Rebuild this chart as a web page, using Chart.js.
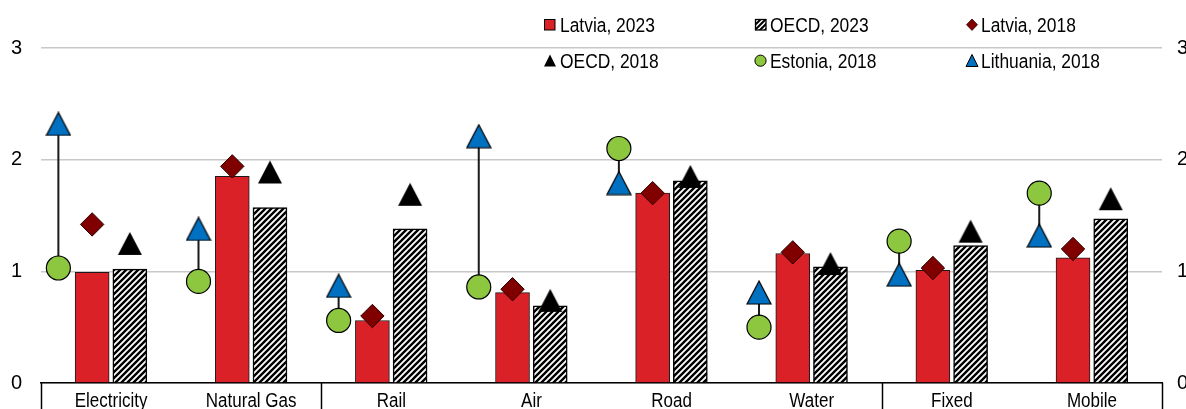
<!DOCTYPE html>
<html><head><meta charset="utf-8">
<script src="https://cdn.jsdelivr.net/npm/chart.js@4.4.1/dist/chart.umd.min.js"></script>
<style>
html,body{margin:0;padding:0;background:#fff;overflow:hidden;width:1186px;height:409px;}
#wrap{position:relative;width:1186px;height:440px;}
canvas{display:block}
.lt{position:absolute;font-family:'Liberation Sans',Arial,sans-serif;font-size:20px;line-height:24px;color:#000;white-space:nowrap;transform:scaleX(0.87);transform-origin:0 50%;}
#icons{position:absolute;left:0;top:0}
</style></head><body>
<div id="wrap">
<canvas id="c" width="1186" height="440"></canvas>
<svg id="icons" width="1186" height="80" xmlns="http://www.w3.org/2000/svg">
<defs><pattern id="hp" width="5" height="5" patternUnits="userSpaceOnUse"><rect width="5" height="5" fill="#fff"/><path d="M-1,6 L6,-1 M-1,1 L1,-1 M4,6 L6,4" stroke="#000" stroke-width="2"/></pattern></defs>
<rect x="544.5" y="19.5" width="10.5" height="10.5" fill="#DA2128" stroke="#000" stroke-width="1"/>
<rect x="755.5" y="19.5" width="10.5" height="10.5" fill="url(#hp)" stroke="#000" stroke-width="1.3"/>
<path d="M972,19 L977.5,24.7 L972,30.4 L966.5,24.7 Z" fill="#800000" stroke="#3a0000" stroke-width="0.8"/>
<path d="M550,54.5 L556,66.5 L544,66.5 Z" fill="#000"/>
<circle cx="760.5" cy="60.7" r="5.6" fill="#8DC63F" stroke="#000" stroke-width="1"/>
<path d="M972,54.5 L978,66.5 L966,66.5 Z" fill="#0070C0" stroke="#000" stroke-width="1"/>
</svg>
<div class="lt" style="left:560px;top:12.5px">Latvia, 2023</div>
<div class="lt" style="left:770px;top:12.5px">OECD, 2023</div>
<div class="lt" style="left:981px;top:12.5px">Latvia, 2018</div>
<div class="lt" style="left:560px;top:48.5px">OECD, 2018</div>
<div class="lt" style="left:770px;top:48.5px">Estonia, 2018</div>
<div class="lt" style="left:981px;top:48.5px">Lithuania, 2018</div>
</div>
<script>
const categories = ['Electricity', 'Natural Gas', 'Rail', 'Air', 'Road', 'Water', 'Fixed', 'Mobile'];
const latvia2023 = [0.99, 1.85, 0.56, 0.81, 1.70, 1.16, 1.01, 1.12];
const oecd2023 = [1.02, 1.57, 1.38, 0.69, 1.81, 1.04, 1.23, 1.47];
const latvia2018 = [1.42, 1.94, 0.60, 0.84, 1.70, 1.17, 1.03, 1.20];
const oecd2018 = [1.25, 1.89, 1.69, 0.74, 1.85, 1.07, 1.36, 1.65];
const estonia2018 = [1.03, 0.91, 0.56, 0.86, 2.10, 0.50, 1.27, 1.70];
const lithuania2018 = [2.32, 1.38, 0.87, 2.21, 1.79, 0.81, 0.97, 1.32];
const yTicks = [0, 1, 2, 3];
const groupBounds = [-0.5, 1.5, 5.5, 7.5];

const FONT = "'Liberation Sans',Arial,sans-serif";
const OFF_BALTIC = -0.376, OFF_LV = -0.135, OFF_OECD = 0.134;

function hatchPattern() {
  const s = 6, c = document.createElement('canvas');
  c.width = s; c.height = s;
  const g = c.getContext('2d');
  g.fillStyle = '#fff'; g.fillRect(0, 0, s, s);
  g.strokeStyle = '#000'; g.lineWidth = 2.4;
  g.beginPath();
  g.moveTo(-1, s + 1); g.lineTo(s + 1, -1);
  g.moveTo(-2, 2); g.lineTo(2, -2);
  g.moveTo(s - 2, s + 2); g.lineTo(s + 2, s - 2);
  g.stroke();
  return c.getContext('2d').createPattern(c, 'repeat');
}
function triCanvas(fill, stroke) {
  const w = 24, h = 23, c = document.createElement('canvas');
  c.width = w + 2; c.height = h + 2;
  const g = c.getContext('2d');
  g.beginPath(); g.moveTo(c.width / 2, 1); g.lineTo(w + 1, h + 1); g.lineTo(1, h + 1); g.closePath();
  g.fillStyle = fill; g.fill();
  if (stroke) { g.lineWidth = 1.2; g.strokeStyle = stroke; g.stroke(); }
  return c;
}
const pts = (arr, off) => arr.map((v, i) => ({x: i + off, y: v}));
const rangeData = [];
estonia2018.forEach((v, i) => {
  rangeData.push({x: i + OFF_BALTIC, y: v}, {x: i + OFF_BALTIC, y: lithuania2018[i]}, {x: i + OFF_BALTIC, y: null});
});

const axisDecor = {
  id: 'axisDecor',
  afterDraw(chart) {
    const xs = chart.scales.xl, xc = chart.scales.x, ctx = chart.ctx, top = chart.chartArea.bottom;
    ctx.save(); ctx.strokeStyle = '#000'; ctx.lineWidth = 1.5;
    groupBounds.forEach(b => {
      const px = Math.round(xs.getPixelForValue(b)) + 0.5;
      ctx.beginPath(); ctx.moveTo(px, top); ctx.lineTo(px, chart.height); ctx.stroke();
    });
    ctx.fillStyle = '#000'; ctx.font = '20px ' + FONT; ctx.textAlign = 'center'; ctx.textBaseline = 'alphabetic';
    categories.forEach((lab, i) => {
      ctx.save();
      ctx.translate(xc.getPixelForValue(i), top + 24);
      ctx.scale(0.85, 1);
      ctx.fillText(lab, 0, 0);
      ctx.restore();
    });
    ctx.restore();
  }
};

const yCommon = {min: 0, max: 3, afterBuildTicks: s => { s.ticks = yTicks.map(v => ({value: v})); }};

new Chart(document.getElementById('c'), {
  type: 'bar',
  data: {
    labels: categories,
    datasets: [
      {label: 'Latvia, 2023', xAxisID: 'xl', data: pts(latvia2023, OFF_LV), backgroundColor: '#DA2128', borderColor: '#1a1a1a', borderWidth: 1, order: 10, grouped: false, barThickness: 34},
      {label: 'OECD, 2023', xAxisID: 'xl', data: pts(oecd2023, OFF_OECD), backgroundColor: hatchPattern(), borderColor: '#000', borderWidth: 1.5, order: 10, grouped: false, barThickness: 34},
      {type: 'line', label: 'range', xAxisID: 'xl', data: rangeData, borderColor: '#1a1a1a', borderWidth: 2, pointRadius: 0, spanGaps: false, order: 5, clip: false},
      {type: 'line', label: 'Latvia, 2018', xAxisID: 'xl', data: pts(latvia2018, OFF_LV), showLine: false, pointStyle: 'rectRot', pointRadius: 11.7, backgroundColor: '#800000', borderColor: '#2a0000', borderWidth: 1, order: 1, clip: false},
      {type: 'line', label: 'OECD, 2018', xAxisID: 'xl', data: pts(oecd2018, OFF_OECD), showLine: false, pointStyle: triCanvas('#000', null), pointRadius: 12, order: 1, clip: false},
      {type: 'line', label: 'Estonia, 2018', xAxisID: 'xl', data: pts(estonia2018, OFF_BALTIC), showLine: false, pointStyle: 'circle', pointRadius: 12, backgroundColor: '#8DC63F', borderColor: '#000', borderWidth: 1.2, order: 1, clip: false},
      {type: 'line', label: 'Lithuania, 2018', xAxisID: 'xl', data: pts(lithuania2018, OFF_BALTIC), showLine: false, pointStyle: triCanvas('#0070C0', '#000'), pointRadius: 12, order: 1, clip: false}
    ]
  },
  options: {
    responsive: false, animation: false,
    layout: {padding: {top: 48, left: 0, right: 0, bottom: 0}},
    plugins: {legend: {display: false}, tooltip: {enabled: false}},
    scales: {
      x: {type: 'category', offset: true, grid: {display: false}, border: {display: true, color: '#000', width: 1.5},
          ticks: {display: false},
          afterFit: s => { s.height = 57; }},
      xl: {type: 'linear', display: false, offset: false, grid: {offset: false}, min: -0.5, max: 7.5},
      y: Object.assign({position: 'left', grid: {color: '#c8c8c8', lineWidth: 1.5, drawTicks: false}, border: {display: false},
          ticks: {font: {family: FONT, size: 20}, color: '#000', padding: 19},
          afterFit: s => { s.width = 41; }}, yCommon),
      y2: Object.assign({position: 'right', grid: {display: false, drawTicks: false}, border: {display: false},
          ticks: {font: {family: FONT, size: 20}, color: '#000', padding: 15},
          afterFit: s => { s.width = 24; }}, yCommon)
    }
  },
  plugins: [axisDecor]
});
</script>
</body></html>
